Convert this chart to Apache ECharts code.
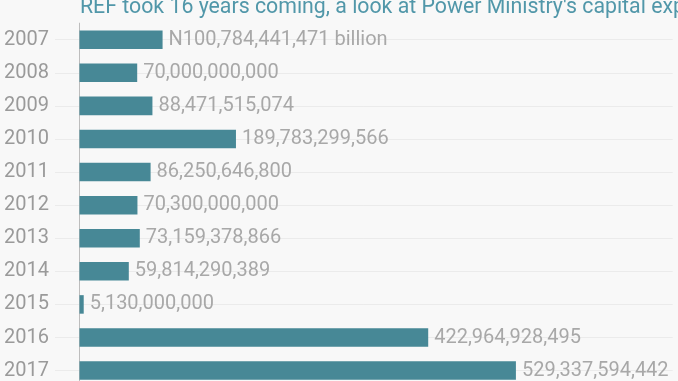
<!DOCTYPE html>
<html>
<head>
<meta charset="utf-8">
<script src="https://cdn.jsdelivr.net/npm/echarts@6/dist/echarts.min.js"></script>
<style>
html,body{margin:0;padding:0;background:#f8f8f8;}
#chart{width:678px;height:381px;}
</style>
</head>
<body>
<div id="chart"></div>
<script>
const titleText = "REF took 16 years coming, a look at Power Ministry's capital expenditure";
const years = ["2007","2008","2009","2010","2011","2012","2013","2014","2015","2016","2017"];
const capitalExpenditure = [100784441471, 70000000000, 88471515074, 189783299566, 86250646800, 70300000000, 73159378866, 59814290389, 5130000000, 422964928495, 529337594442];
const firstLabelPrefix = "N";
const firstLabelSuffix = " billion";

function fmt(v){ return v.toString().replace(/\B(?=(\d{3})+(?!\d))/g, ","); }

const chart = echarts.init(document.getElementById('chart'), null, {renderer:'canvas'});
chart.setOption({
  backgroundColor: '#f8f8f8',
  animation: false,
  title: {
    text: titleText,
    left: 75,
    top: -8,
    textStyle: {fontFamily: 'Roboto', fontSize: 21.3, fontWeight: 'normal', color: '#5197a9'}
  },
  grid: {left: 55, right: 5.3, top: 23.15, height: 364, containLabel: false, outerBoundsMode: 'none'},
  xAxis: {
    type: 'value',
    min: -29.7e9,
    max: 719.5e9,
    show: true,
    axisLine: {show: false},
    axisTick: {show: false},
    axisLabel: {show: false},
    splitLine: {show: false}
  },
  yAxis: {
    type: 'category',
    data: years,
    inverse: true,
    axisLine: {show: true, onZero: true, lineStyle: {color: '#bdbdbd', width: 1}},
    axisTick: {show: false},
    axisLabel: {margin: 6, fontFamily: 'Roboto', fontSize: 20, color: '#9a9a9a'},
    splitLine: {show: true, alignWithLabel: true, lineStyle: {color: '#ebebeb', width: 1}}
  },
  series: [{
    type: 'bar',
    data: capitalExpenditure,
    barCategoryGap: '44%',
    itemStyle: {color: '#478896'},
    label: {
      show: true,
      position: 'right',
      distance: 6,
      fontFamily: 'Roboto',
      fontSize: 20,
      color: '#a8a8a8',
      formatter: function(p){
        return p.dataIndex === 0 ? firstLabelPrefix + fmt(p.value) + firstLabelSuffix : fmt(p.value);
      }
    }
  }]
});
</script>
</body>
</html>
